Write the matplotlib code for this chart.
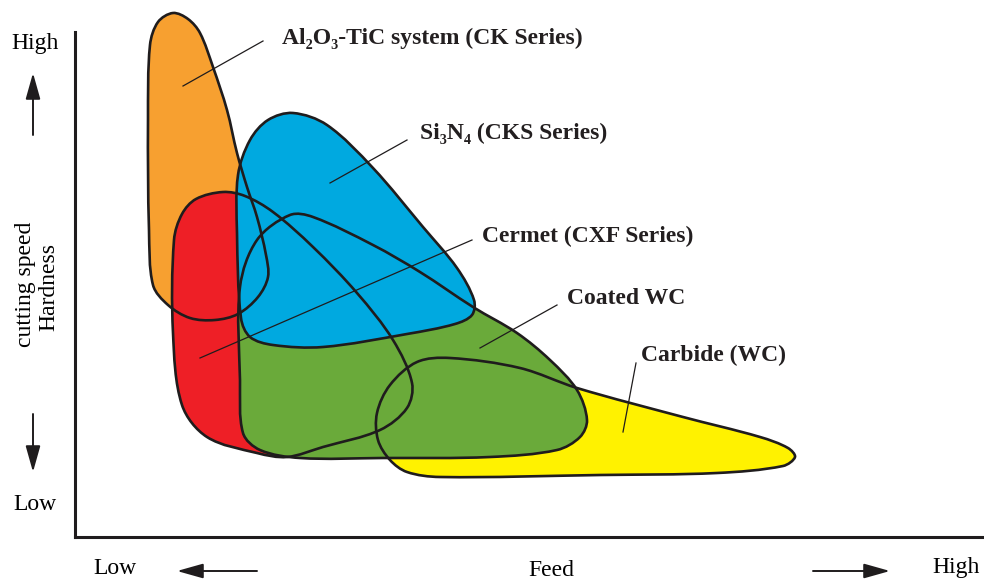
import numpy as np
import matplotlib
matplotlib.use('Agg')
import matplotlib.pyplot as plt
from matplotlib.path import Path
from matplotlib.patches import PathPatch

SERIF = ['Liberation Serif', 'DejaVu Serif']

# outline points of each tool-material region (image coords, y down)
ck_pts = [(173, 13), (188, 19), (200, 33), (213, 67), (227, 110), (237, 153),
          (247, 187), (257, 217), (266, 255), (268, 277), (258, 297), (238, 314),
          (215, 320), (190, 318), (168, 305), (153, 285), (149, 230), (148, 120),
          (150, 45), (158, 22)]
cks_pts = [(293, 113), (327, 125), (373, 168), (423, 227), (457, 268), (474, 300),
           (472, 315), (455, 324), (407, 334), (323, 347), (273, 345), (250, 337),
           (241, 318), (237, 233), (238, 175), (250, 140), (268, 120)]
cxf_pts = [(174, 240), (182, 214), (196, 199), (223, 192), (245, 196), (273, 212),
           (313, 247), (357, 293), (393, 340), (412, 383), (407, 408), (380, 430),
           (323, 447), (287, 457), (257, 453), (207, 437), (182, 405), (173, 333)]
coated_pts = [(240, 287), (257, 240), (290, 215), (313, 217), (373, 245), (420, 272),
              (473, 307), (517, 333), (550, 360), (577, 390), (587, 420), (580, 437),
              (557, 450), (490, 457), (383, 458), (300, 458), (260, 450), (243, 433),
              (240, 380)]
wc_pts = [(377, 413), (390, 385), (417, 362), (450, 358), (520, 368), (577, 388),
          (683, 417), (760, 437), (788, 448), (795, 457), (783, 466), (717, 473),
          (600, 475), (440, 477), (407, 472), (390, 460), (378, 440)]

regions = ['CK', 'CKS', 'CXF', 'Coated WC', 'WC']
outlines = [ck_pts, cks_pts, cxf_pts, coated_pts, wc_pts]
fills = ['#F7A030', '#00A9E0', '#EE1F26', '#6AAA3A', '#FFF200']
fill_order = [4, 0, 2, 3, 1]   # yellow, orange, red, green, blue

labels = ['Al\u2082O\u2083-TiC system (CK Series)', 'Si\u2083N\u2084 (CKS Series)',
          'Cermet (CXF Series)', 'Coated WC', 'Carbide (WC)']
label_xy = [(282, 38), (420, 133), (482, 236), (567, 298), (641, 355)]
leader_from = [(263, 41), (407, 140), (472, 240), (557, 305), (636, 363)]
leader_to = [(183, 86), (330, 183), (200, 358), (480, 348), (623, 432)]


def smooth_path(pts):
    # closed chord-length Catmull-Rom curve as cubic bezier segments
    p = np.array(pts, float)
    n = len(p)
    verts = [p[0]]
    codes = [Path.MOVETO]
    for i in range(n):
        p0, p1, p2, p3 = p[i - 1], p[i], p[(i + 1) % n], p[(i + 2) % n]
        d01 = np.hypot(*(p1 - p0))
        d12 = np.hypot(*(p2 - p1))
        d23 = np.hypot(*(p3 - p2))
        m1 = (p2 - p0) / (d01 + d12)
        m2 = (p3 - p1) / (d12 + d23)
        verts += [p1 + m1 * d12 / 3.0, p2 - m2 * d12 / 3.0, p2]
        codes += [Path.CURVE4] * 3
    verts.append(p[0])
    codes.append(Path.CLOSEPOLY)
    return Path(verts, codes)


fig = plt.figure(figsize=(9.84, 5.83), dpi=100)
ax = fig.add_axes([0, 0, 1, 1])
ax.set_xlim(0, 984)
ax.set_ylim(583, 0)
ax.axis('off')

for k, i in enumerate(fill_order):
    ax.add_patch(PathPatch(smooth_path(outlines[i]), facecolor=fills[i],
                           edgecolor='none', zorder=1 + k))
for pts in outlines:
    ax.add_patch(PathPatch(smooth_path(pts), facecolor='none',
                           edgecolor='#1f1c1d', lw=1.9, zorder=10))

# leader lines and labels
for txt, (tx, ty), a, b in zip(labels, label_xy, leader_from, leader_to):
    ax.plot([a[0], b[0]], [a[1], b[1]], color='#1f1c1d', lw=0.9, zorder=11)
    ax.text(tx, ty, txt, fontsize=17, fontweight='bold', family=SERIF,
            ha='left', va='center', color='#231f20')

# frame lines
ax.plot([75, 75], [32, 537], color='#1f1c1d', lw=2.2)
ax.plot([75, 984], [537, 537], color='#1f1c1d', lw=2.2)

# axis words
ax.text(35, 44, 'High', fontsize=17, family=SERIF, ha='center', va='center')
ax.text(35, 504, 'Low', fontsize=17, family=SERIF, ha='center', va='center')
ax.text(25, 284, 'cutting speed', fontsize=17, family=SERIF, rotation=90,
        ha='center', va='center')
ax.text(49, 287, 'Hardness', fontsize=17, family=SERIF, rotation=90,
        ha='center', va='center')
ax.text(115, 568, 'Low', fontsize=17, family=SERIF, ha='center', va='center')
ax.text(551, 571, 'Feed', fontsize=17, family=SERIF, ha='center', va='center')
ax.text(956, 568, 'High', fontsize=17, family=SERIF, ha='center', va='center')

arrow = dict(arrowstyle='-|>,head_length=1.6,head_width=0.45', color='#1f1c1d',
             lw=1.4, shrinkA=0, shrinkB=0)
ax.annotate('', xy=(33, 73), xytext=(33, 135), arrowprops=arrow)
ax.annotate('', xy=(33, 472), xytext=(33, 414), arrowprops=arrow)
ax.annotate('', xy=(177, 571), xytext=(257, 571), arrowprops=arrow)
ax.annotate('', xy=(890, 571), xytext=(813, 571), arrowprops=arrow)

fig.savefig('out.png', dpi=100, facecolor='white')
